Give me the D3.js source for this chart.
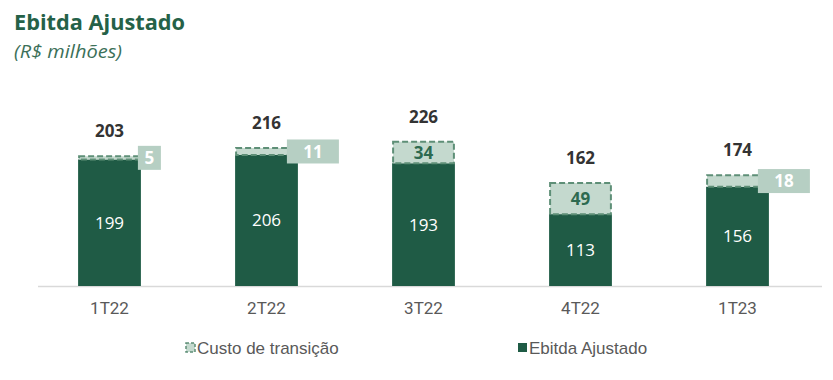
<!DOCTYPE html>
<html><head><meta charset="utf-8">
<script src="https://cdn.jsdelivr.net/npm/d3@7"></script>
<style>body{margin:0;background:#fff}svg{display:block}</style>
</head><body>
<script>
const categories = ["1T22","2T22","3T22","4T22","1T23"];
const ebitda = [199, 206, 193, 113, 156];
const custo = [5, 11, 34, 49, 18];
const totals = [203, 216, 226, 162, 174];
const legendLabels = ["Custo de transição","Ebitda Ajustado"];

const W = 833, H = 380;
const dark = "#1f5b45", light = "#c4d9ce", dash = "#5e8f77", boxC = "#b6cfc3";
const svg = d3.select("body").append("svg").attr("width", W).attr("height", H);

svg.append("text").attr("x", 14).attr("y", 30).text("Ebitda Ajustado")
  .attr("font-family","Open Sans, sans-serif").attr("font-weight","bold").attr("font-size",22).attr("fill","#256148")
  .attr("textLength",171).attr("lengthAdjust","spacingAndGlyphs");
svg.append("text").attr("x", 14).attr("y", 58).text("(R$ milhões)")
  .attr("font-family","Open Sans, sans-serif").attr("font-style","italic").attr("font-size",18).attr("fill","#3c7059")
  .attr("textLength",108).attr("lengthAdjust","spacingAndGlyphs");

const x = d3.scaleBand().domain(categories).range([31, 816]).paddingInner(0.6).paddingOuter(0.3);
const y = d3.scaleLinear().domain([0, 250]).range([286, 127]);

// axis line
svg.append("line").attr("x1", 38).attr("x2", 822).attr("y1", y(0)+0.5).attr("y2", y(0)+0.5)
  .attr("stroke","#d9d9d9").attr("stroke-width",1.5);

const data = categories.map((c,i)=>({c, e: ebitda[i], k: custo[i], t: totals[i]}));
const g = svg.append("g");
const bw = x.bandwidth();

g.selectAll("rect.e").data(data).join("rect").attr("class","e")
  .attr("x", d=>x(d.c)).attr("width", bw)
  .attr("y", d=>y(d.e)).attr("height", d=>y(0)-y(d.e)).attr("fill", dark);

g.selectAll("rect.k").data(data).join("rect").attr("class","k")
  .attr("x", d=>x(d.c)+1).attr("width", bw-2)
  .attr("y", d=>y(d.e+d.k)).attr("height", d=>Math.max(1, y(d.e)-y(d.e+d.k)))
  .attr("fill", light).attr("stroke", dash).attr("stroke-width", 2).attr("stroke-dasharray","6,3");

// ebitda labels
g.selectAll("text.e").data(data).join("text").attr("class","e")
  .attr("x", d=>x(d.c)+bw/2).attr("y", d=>(y(d.e)+y(0))/2).attr("dy","0.35em")
  .attr("text-anchor","middle").attr("fill","#fff").attr("font-size",17)
  .attr("font-family","Open Sans, sans-serif").text(d=>d.e);

// custo labels: inside if large, boxed to the right if small
const inside = d=> (y(d.e)-y(d.e+d.k)) > 18;
g.selectAll("text.ki").data(data.filter(inside)).join("text").attr("class","ki")
  .attr("x", d=>x(d.c)+bw/2).attr("y", d=>(y(d.e)+y(d.e+d.k))/2).attr("dy","0.36em")
  .attr("text-anchor","middle").attr("fill","#2d6a50").attr("font-weight","bold").attr("font-size",17)
  .attr("font-family","Open Sans, sans-serif").text(d=>d.k);

const out = data.filter(d=>!inside(d));
const boxW = d=> String(d.k).length===1 ? 23 : 52;
const boxX = d=> x(d.c)+bw - (String(d.k).length===1 ? 3 : 11);
g.selectAll("rect.kb").data(out).join("rect").attr("class","kb")
  .attr("x", boxX).attr("width", boxW)
  .attr("y", d=>(y(d.e)+y(d.e+d.k))/2 - 12).attr("height", 24).attr("fill", boxC);
g.selectAll("text.kb").data(out).join("text").attr("class","kb")
  .attr("x", d=>boxX(d)+boxW(d)/2).attr("y", d=>(y(d.e)+y(d.e+d.k))/2).attr("dy","0.36em")
  .attr("text-anchor","middle").attr("fill","#fff").attr("font-weight","bold").attr("font-size",17)
  .attr("font-family","Open Sans, sans-serif").text(d=>d.k);

// totals
g.selectAll("text.t").data(data).join("text").attr("class","t")
  .attr("x", d=>x(d.c)+bw/2).attr("y", d=>y(d.e+d.k)-19)
  .attr("text-anchor","middle").attr("fill","#333").attr("font-weight","bold").attr("font-size",17)
  .attr("font-family","Open Sans, sans-serif").text(d=>d.t);

// x axis labels
const ax = svg.append("g").attr("transform",`translate(0,${y(0)})`)
  .call(d3.axisBottom(x).tickSize(0).tickPadding(16));
ax.select(".domain").remove();
ax.selectAll("text").attr("font-family","Liberation Sans Narrow, Roboto, sans-serif").attr("font-size",17).attr("fill","#595959");

// legend
const lg = svg.append("g").attr("font-family","Liberation Sans, Arial, sans-serif").attr("font-size",17).attr("fill","#595959");
lg.append("rect").attr("x",186).attr("y",343).attr("width",9).attr("height",9).attr("fill",light).attr("stroke",dash).attr("stroke-width",1.5).attr("stroke-dasharray","3,2");
lg.append("text").attr("x",197).attr("y",354).text(legendLabels[0]);
lg.append("rect").attr("x",518).attr("y",343).attr("width",9).attr("height",9).attr("fill",dark);
lg.append("text").attr("x",529).attr("y",354).text(legendLabels[1]);
</script>
</body></html>
